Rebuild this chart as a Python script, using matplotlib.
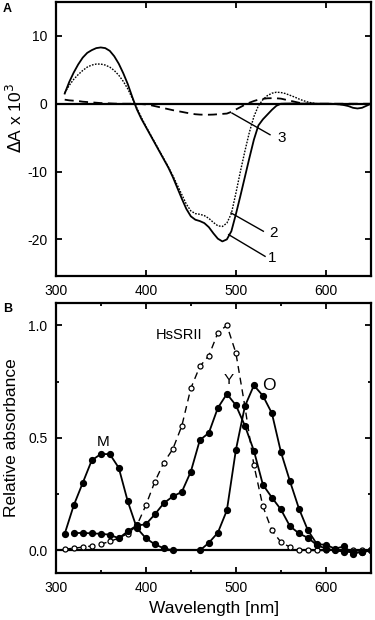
import matplotlib
matplotlib.use("Agg")
import matplotlib.pyplot as plt
from matplotlib.ticker import MultipleLocator

plt.rcParams['font.family'] = ['Liberation Sans', 'DejaVu Sans']
plt.rcParams['axes.unicode_minus'] = False

# --- panel A : difference spectra, 5 nm steps (310 .. 650) ---
wl_a = list(range(310, 655, 5))
curve1 = [1.5, 3.2, 4.6, 5.8, 6.8, 7.5, 7.9, 8.2, 8.3,                     # 310-350
          8.2, 7.8, 7.0, 5.9, 4.5, 2.9, 1.0, -0.8, -2.2, -3.4,              # 355-400
          -4.6, -5.8, -7.0, -8.2, -9.4, -10.8, -12.4, -14.0, -15.5, -16.6,  # 405-450
          -17.1, -17.3, -17.6, -18.2, -19.1, -19.9, -20.3, -20.0, -18.8, -16.3,
          -13.6, -10.8, -8.0, -5.3, -3.2, -2.3, -1.6, -0.9, -0.3, 0.0,
          0.02, 0.03, 0.03, 0.02, 0.02, 0.02, 0.02, 0.01, 0.0, 0.0,
          0.0, -0.05, -0.1, -0.2, -0.35, -0.6, -0.7, -0.6, -0.3, 0.0]
curve2 = [1.6, 2.7, 3.6, 4.3, 4.9, 5.4, 5.7, 5.85, 5.85,
          5.7, 5.4, 4.9, 4.2, 3.3, 2.2, 0.8, -0.6, -2.0, -3.3,
          -4.5, -5.7, -6.9, -8.1, -9.3, -10.6, -12.0, -13.4, -14.8, -15.8,
          -16.2, -16.3, -16.5, -16.9, -17.5, -18.0, -18.1, -17.6, -16.2, -13.2,
          -10.0, -7.0, -4.2, -1.9, -0.3, 0.6, 1.2, 1.55, 1.7, 1.65,
          1.5, 1.25, 1.0, 0.7, 0.45, 0.25, 0.1, 0.0, -0.02, -0.03,
          -0.05, -0.08, -0.1, -0.1, -0.1, -0.1, -0.08, -0.05, -0.02, 0.0]
curve3 = [0.6, 0.5, 0.45, 0.4, 0.3, 0.25, 0.2, 0.15, 0.1,
          0.07, 0.05, 0.02, 0.0, 0.0, 0.0, 0.0, -0.02, -0.05, -0.1,
          -0.2, -0.35, -0.5, -0.65, -0.8, -0.95, -1.08, -1.2, -1.33, -1.45,
          -1.55, -1.6, -1.62, -1.62, -1.6, -1.55, -1.5, -1.45, -1.2, -0.85,
          -0.5, -0.15, 0.15, 0.4, 0.6, 0.72, 0.8, 0.82, 0.8, 0.75,
          0.6, 0.45, 0.3, 0.15, 0.05, 0.0, 0.0, 0.0, 0.0, 0.0,
          0.0, 0.0, 0.0, 0.0, 0.0, 0.0, 0.0, 0.0, 0.0, 0.0]

# --- panel B : absorption spectra, 10 nm steps ---
wl_m = list(range(310, 440, 10))
abs_m = [0.074, 0.20, 0.30, 0.40, 0.428, 0.428, 0.367, 0.218, 0.10, 0.055,
         0.027, 0.01, 0.0]

wl_y = list(range(320, 660, 10))
abs_y = [0.077, 0.078, 0.076, 0.074, 0.07, 0.054, 0.085, 0.111, 0.116, 0.16,
         0.21, 0.24, 0.26, 0.35, 0.49, 0.522, 0.633, 0.695, 0.645, 0.554, 0.443,
         0.292, 0.235, 0.182, 0.108, 0.076, 0.056, 0.024, 0.008, 0.0, -0.005,
         -0.008, -0.008, 0.0]

wl_o = list(range(460, 660, 10))
abs_o = [0.0, 0.034, 0.079, 0.178, 0.446, 0.64, 0.733, 0.687, 0.609, 0.437,
         0.308, 0.186, 0.089, 0.028, 0.025, 0.008, 0.018, -0.015, -0.005, 0.0]

wl_h = list(range(310, 660, 10))
abs_h = [0.006, 0.01, 0.015, 0.02, 0.028, 0.04, 0.055, 0.075, 0.11, 0.2, 0.305,
         0.39, 0.45, 0.553, 0.72, 0.817, 0.865, 0.966, 1.0, 0.877, 0.64, 0.379,
         0.196, 0.089, 0.037, 0.015, 0.003, 0.0, 0.0, 0.0, 0.0, 0.0, 0.0, 0.0,
         0.0]

W, H = 375, 620
fig = plt.figure(figsize=(W / 100, H / 100), dpi=100)
axA = fig.add_axes([55.7 / W, (H - 276) / H, 315.3 / W, 274 / H])
axB = fig.add_axes([55.7 / W, (H - 573) / H, 315.3 / W, 270.3 / H])

for ax in (axA, axB):
    for s in ax.spines.values():
        s.set_linewidth(1.6)
    ax.tick_params(which='both', direction='in', top=True, right=True,
                   width=1.3, labelsize=10)
    ax.tick_params(which='major', length=4.5)
    ax.tick_params(which='minor', length=2.5)
    ax.tick_params(axis='x', pad=5.5)
    ax.tick_params(axis='y', pad=6)
    ax.axhline(0, color='black', lw=1.6, zorder=1)
    ax.set_xlim(300, 650)
    ax.xaxis.set_major_locator(MultipleLocator(100))

# panel A
axA.plot(wl_a, curve1, color='black', lw=1.3)
axA.plot(wl_a, curve2, color='black', lw=1.0, ls=(0, (1.2, 1.0)))
axA.plot(wl_a, curve3, color='black', lw=1.3, ls=(0, (5, 3)))
axA.set_ylim(-25.4, 15)
axA.yaxis.set_major_locator(MultipleLocator(10))

axA.plot([495.7, 537.9], [-1.38, -4.57], color='black', lw=1.0)
axA.plot([494.6, 530.5], [-16.1, -18.8], color='black', lw=1.0)
axA.plot([492.0, 532.4], [-19.3, -22.5], color='black', lw=1.0)
axA.text(550.7, -5.07, '3', fontsize=11, ha='center', va='center')
axA.text(541.6, -19.1, '2', fontsize=11, ha='center', va='center')
axA.text(539.7, -22.8, '1', fontsize=11, ha='center', va='center')

# panel B
axB.plot(wl_h, abs_h, color='black', lw=1.0, ls=(0, (5, 3.5)),
         marker='o', ms=3.6, mfc='white', mec='black', mew=0.9, zorder=3)
axB.plot(wl_m, abs_m, color='black', lw=1.3, marker='o', ms=4.2, zorder=4)
axB.plot(wl_y, abs_y, color='black', lw=1.3, marker='o', ms=4.2, zorder=4)
axB.plot(wl_o, abs_o, color='black', lw=1.3, marker='o', ms=4.2, zorder=4)
axB.set_ylim(-0.1, 1.1)
axB.xaxis.set_minor_locator(MultipleLocator(50))
axB.yaxis.set_major_locator(MultipleLocator(0.5))
axB.yaxis.set_minor_locator(MultipleLocator(0.25))
axB.yaxis.set_major_formatter(plt.FormatStrFormatter('%.1f'))

axB.text(353, 0.483, 'M', fontsize=11, ha='center', va='center')
axB.text(437, 0.958, 'HsSRII', fontsize=10.5, ha='center', va='center')
axB.text(492, 0.758, 'Y', fontsize=11, ha='center', va='center')
axB.text(537, 0.731, 'O', fontsize=12.5, ha='center', va='center')

# axis labels placed in pixel positions
fig.text(15 / W, 1 - 118 / H, r'$\Delta$A x 10$^3$', rotation=90,
         fontsize=12.5, ha='center', va='center')
fig.text(12 / W, 1 - 438 / H, 'Relative absorbance', rotation=90,
         fontsize=12.5, ha='center', va='center')
fig.text(214 / W, 1 - 609 / H, 'Wavelength [nm]', fontsize=12.5,
         ha='center', va='center')

fig.text(3 / W, 1 - 9 / H, 'A', fontsize=9, fontweight='bold', va='center')
fig.text(3 / W, 1 - 309 / H, 'B', fontsize=9, fontweight='bold', va='center')

fig.savefig('out.png', dpi=100)
